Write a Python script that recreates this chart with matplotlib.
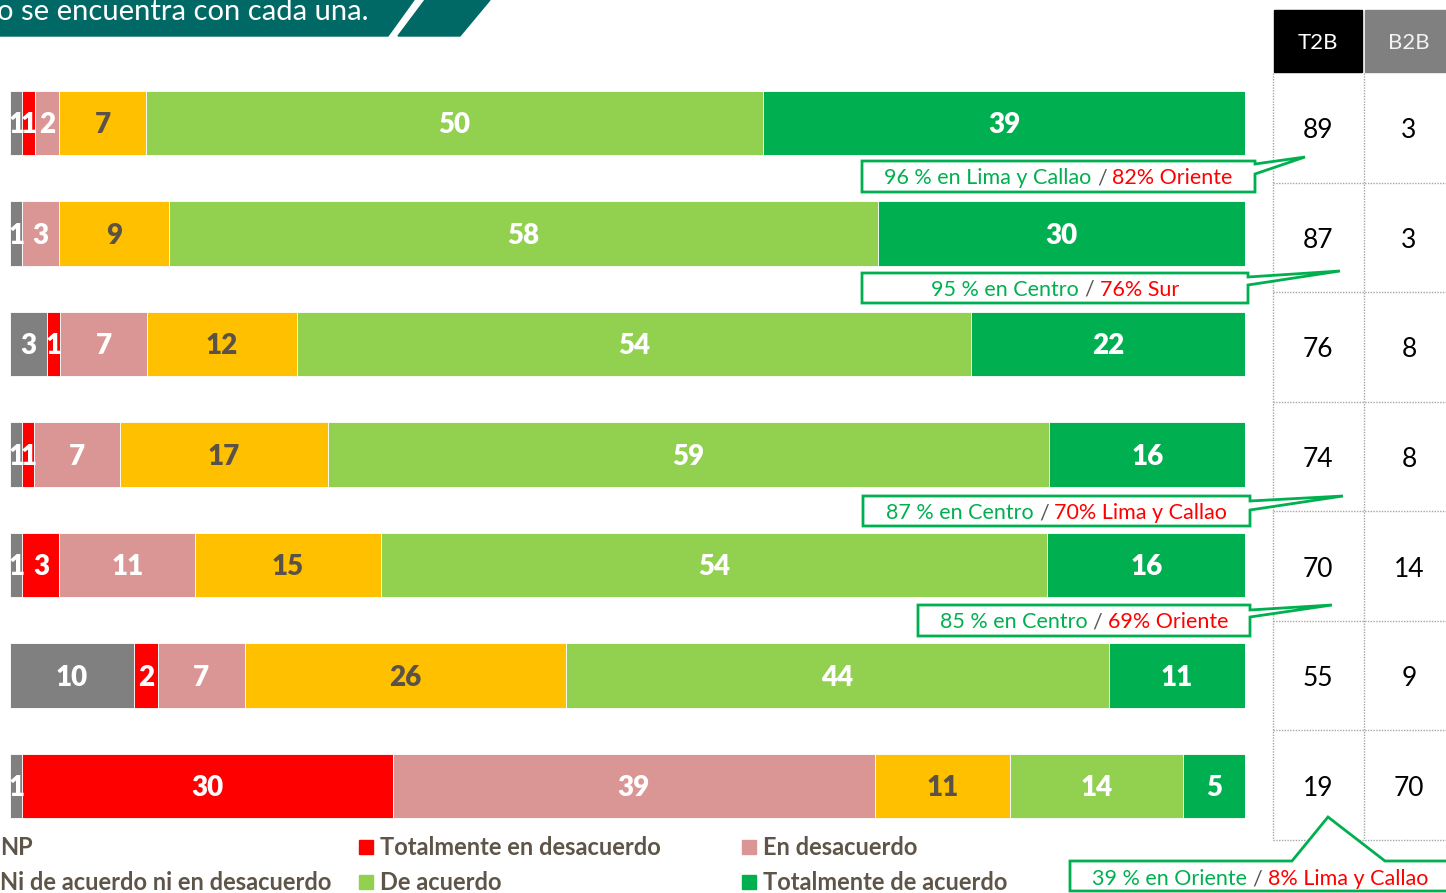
import numpy as np
import matplotlib
matplotlib.use('Agg')
import matplotlib.pyplot as plt
from matplotlib.patches import Polygon, Rectangle
from matplotlib.offsetbox import TextArea, HPacker, AnnotationBbox

plt.rcParams['font.family'] = ['Lato', 'DejaVu Sans']

# data
categories = ['NP', 'Totalmente en desacuerdo', 'En desacuerdo',
              'Ni de acuerdo ni en desacuerdo', 'De acuerdo', 'Totalmente de acuerdo']
np_vals = [1, 1, 3, 1, 1, 10, 1]
tot_desacuerdo = [1, 0, 1, 1, 3, 2, 30]
desacuerdo = [2, 3, 7, 7, 11, 7, 39]
ni_ni = [7, 9, 12, 17, 15, 26, 11]
de_acuerdo = [50, 58, 54, 59, 54, 44, 14]
tot_acuerdo = [39, 30, 22, 16, 16, 11, 5]
t2b = [89, 87, 76, 74, 70, 55, 19]
b2b = [3, 3, 8, 8, 14, 9, 70]

callout_rows = [0, 1, 3, 4, 6]
callout_green = ['96 % en Lima y Callao', '95 % en Centro', '87 % en Centro',
                 '85 % en Centro', '39 % en Oriente']
callout_red = ['82% Oriente', '76% Sur', '70% Lima y Callao', '69% Oriente',
               '8% Lima y Callao']

colors = ['#808080', '#FF0000', '#DA9694', '#FFC000', '#92D050', '#00B050']
label_colors = ['white', 'white', 'white', '#5B5247', 'white', 'white']
GREEN = '#00B050'

W, H = 1446, 893
fig = plt.figure(figsize=(W / 100, H / 100), dpi=100)

# stacked bars (100%)
values = np.array([np_vals, tot_desacuerdo, desacuerdo, ni_ni, de_acuerdo, tot_acuerdo]).T
shares = values / values.sum(axis=1, keepdims=True)
n = values.shape[0]
pitch = (786 - 123) / (n - 1)
top = 123 - pitch / 2
bottom = 786 + pitch / 2
ax = fig.add_axes([10 / W, (H - bottom) / H, 1235 / W, (bottom - top) / H])
ax.set_xlim(0, 1)
ax.set_ylim(n - 0.5, -0.5)
ax.axis('off')

y = np.arange(n)
left = np.zeros(n)
for j, cat in enumerate(categories):
    w = shares[:, j]
    ax.barh(y, w, left=left, height=0.58, color=colors[j], edgecolor='white', linewidth=0.6)
    for i in range(n):
        if values[i, j] > 0:
            ax.text(left[i] + w[i] / 2, y[i] + 0.02, str(values[i, j]), ha='center', va='center',
                    color=label_colors[j], fontsize=20, fontweight='heavy')
    left += w

# overlay in pixel coordinates
ov = fig.add_axes([0, 0, 1, 1])
ov.set_xlim(0, W)
ov.set_ylim(H, 0)
ov.axis('off')
ov.patch.set_visible(False)

# title banner
ov.add_patch(Polygon([(-5, 0), (414, 0), (388, 36), (-5, 36)], color='#006966'))
ov.add_patch(Polygon([(425, 0), (490, 0), (460, 36), (398, 36)], color='#006966'))
ov.text(-3, 20, 'o se encuentra con cada una.', color='white', fontsize=21,
        ha='left', va='baseline')

# T2B / B2B table
ov.add_patch(Rectangle((1274, 10), 88, 62, color='black'))
ov.add_patch(Rectangle((1365, 10), 90, 62, color='#808080'))
ov.text(1318, 43, 'T2B', color='white', fontsize=16, ha='center', va='center')
ov.text(1409, 43, 'B2B', color='#F2F2F2', fontsize=16, ha='center', va='center')
row_h = (840 - 73) / n
dot = dict(color='#A6A6A6', lw=1, linestyle=(0, (1, 1)))
ov.plot([1273, 1273], [73, 840], **dot)
ov.plot([1364, 1364], [73, 840], **dot)
for k in range(1, n + 1):
    ov.plot([1273, W], [73 + k * row_h] * 2, **dot)
for i in range(n):
    yc = 73 + row_h * (i + 0.5) + 3
    ov.text(1318, yc, str(t2b[i]), fontsize=19, ha='center', va='center', color='black')
    ov.text(1409, yc, str(b2b[i]), fontsize=19, ha='center', va='center', color='black')

# callouts
shapes = [
    [(862, 161), (1255, 161), (1255, 164), (1305, 157), (1255, 174), (1255, 192), (862, 192)],
    [(862, 273), (1248, 273), (1248, 277), (1340, 271), (1248, 285), (1248, 303), (862, 303)],
    [(863, 496), (1250, 496), (1250, 501), (1343, 496), (1250, 510), (1250, 526), (863, 526)],
    [(918, 605), (1250, 605), (1250, 610), (1332, 605), (1250, 617), (1250, 636), (918, 636)],
    [(1070, 861), (1292, 861), (1328, 817), (1385, 861), (1460, 861), (1460, 891), (1070, 891)],
]
for k, r in enumerate(callout_rows):
    pts = shapes[k]
    ov.add_patch(Polygon(pts, closed=True, facecolor='white', edgecolor=GREEN, lw=2, zorder=3))
    if k == len(shapes) - 1:
        cx, cy = 1260, 879
    else:
        cx, cy = (pts[0][0] + pts[1][0]) / 2, (pts[0][1] + pts[-1][1]) / 2 + 2
    pack = HPacker(children=[
        TextArea(callout_green[k], textprops=dict(color=GREEN, fontsize=15.5)),
        TextArea('/', textprops=dict(color='#595959', fontsize=15.5)),
        TextArea(callout_red[k], textprops=dict(color='#FF0000', fontsize=15.5)),
    ], sep=4, pad=0, align='baseline')
    ab = AnnotationBbox(pack, (cx, cy), xycoords='data', frameon=False,
                        box_alignment=(0.5, 0.5), pad=0, zorder=4)
    ov.add_artist(ab)

# legend
leg_x = [0, 380, 763]
leg_y = [855, 890]
for i, cat in enumerate(categories):
    r, c = divmod(i, 3)
    ov.add_patch(Rectangle((leg_x[c] - 21, leg_y[r] - 15), 14, 14, color=colors[i]))
    ov.text(leg_x[c], leg_y[r], cat, fontsize=17, fontweight='bold', color='#5E5548',
            ha='left', va='baseline')

fig.savefig('out.png', dpi=100)
